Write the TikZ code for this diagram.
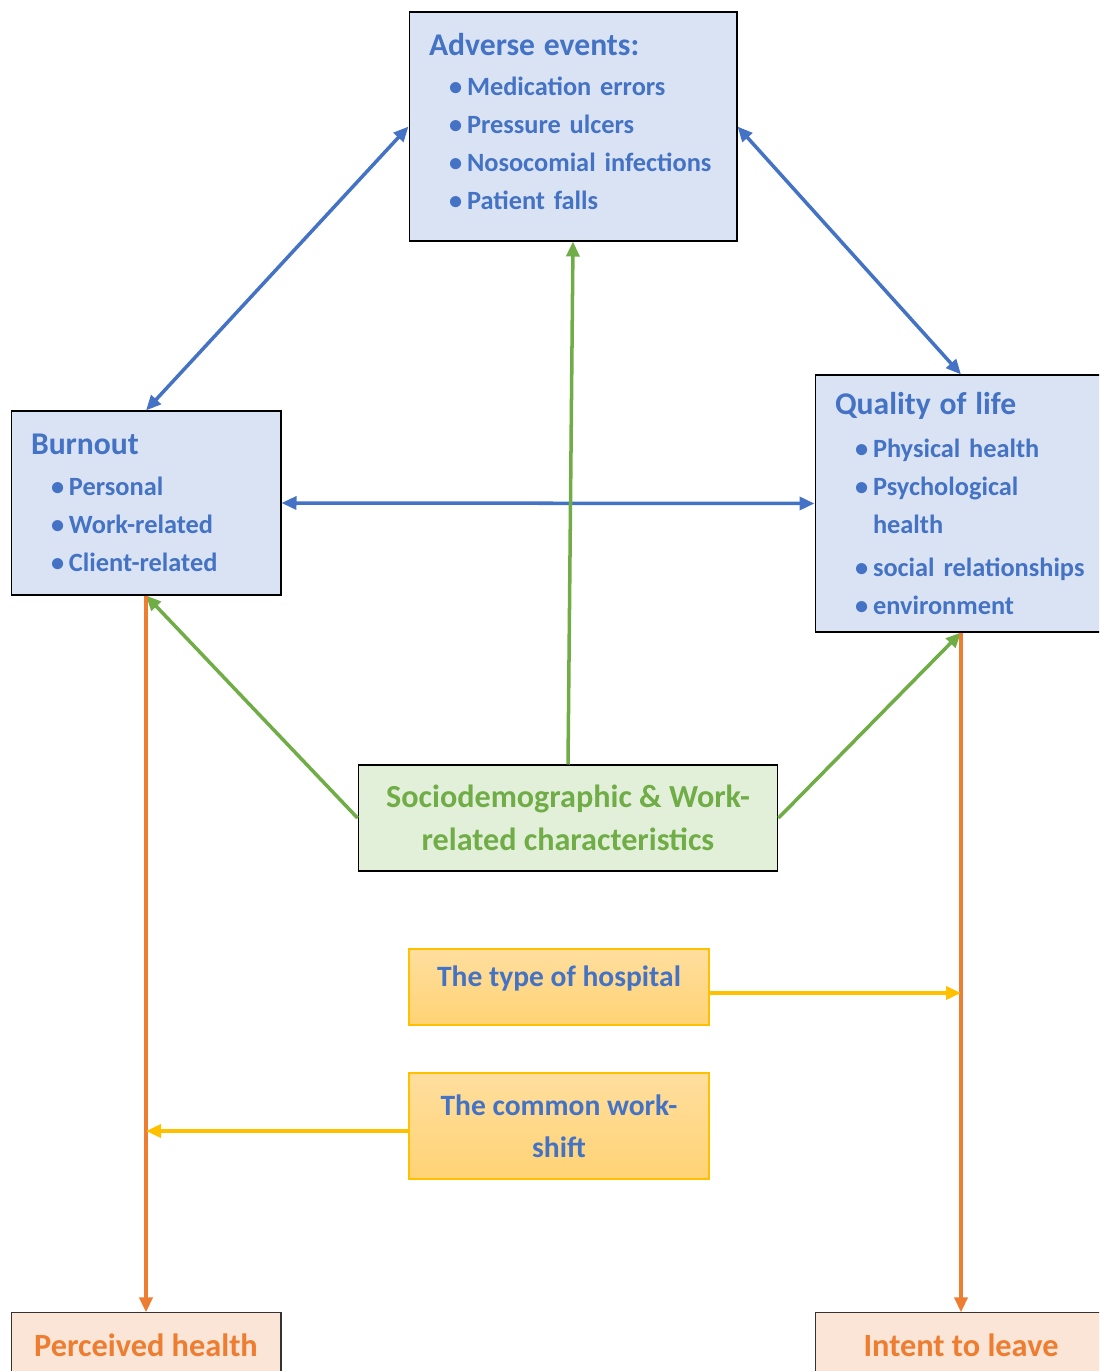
\documentclass[tikz,border=0pt]{standalone}
\usepackage{fontspec}
\setmainfont{Carlito}
\usepackage{xcolor}
\usetikzlibrary{arrows.meta}
\usetikzlibrary{positioning}

\definecolor{txtblue}{HTML}{4472C4}
\definecolor{boxblue}{HTML}{DAE3F3}
\definecolor{txtgreen}{HTML}{70AD47}
\definecolor{boxgreen}{HTML}{E2F0D9}
\definecolor{txtorange}{HTML}{ED7D31}
\definecolor{boxpeach}{HTML}{FBE5D6}
\definecolor{lineyellow}{HTML}{FFC000}
\definecolor{yellowtop}{HTML}{FFDE9E}
\definecolor{yellowbot}{HTML}{FFD375}

\newcommand{\bitem}{\hspace*{0.4cm}\makebox[0.36cm][l]{\textbullet}}
\newcommand{\btitle}[1]{{\fontsize{18}{22}\selectfont #1}}

\begin{document}
\begin{tikzpicture}[x=0.02cm,y=-0.02cm,
                    thick,font=\bfseries,
                    info box/.style={rectangle,draw=black,line width=0.6pt,fill=boxblue,
                      text=txtblue,align=left,inner xsep=0.4cm,inner ysep=0pt,
                      font=\bfseries\fontsize{15}{21.6}\selectfont},
                    cause box/.style={rectangle,draw=black,line width=0.6pt,fill=boxgreen,
                      text=txtgreen,align=center,inner sep=0pt,
                      font=\bfseries\fontsize{18.3}{24.5}\selectfont},
                    shift box/.style={rectangle,draw=lineyellow,line width=1pt,
                      top color=yellowtop,bottom color=yellowbot,text=txtblue,
                      align=center,inner sep=0pt,minimum width=6cm,
                      font=\bfseries\fontsize{16.8}{24}\selectfont},
                    outcome box/.style={rectangle,draw=black!80,line width=0.6pt,fill=boxpeach,
                      text=txtorange,inner sep=0pt,minimum height=1.28cm,
                      font=\bfseries\fontsize{18.4}{22}\selectfont},
                    arrow tip/.style={-{Triangle[length=0.3cm,width=0.26cm]}},
                    both tips/.style={{Triangle[length=0.3cm,width=0.26cm]}-{Triangle[length=0.3cm,width=0.26cm]}},
                    blue arrow/.style={both tips,draw=txtblue,line width=2pt},
                    green arrow/.style={arrow tip,draw=txtgreen,line width=2pt},
                    orange arrow/.style={arrow tip,draw=txtorange,line width=2pt},
                    yellow arrow/.style={arrow tip,draw=lineyellow,line width=2pt}]

  \clip (0,0) rectangle (1099,1371);

  \node[info box,text width=5.76cm,minimum height=4.58cm] (adverse) at (573,126.5)
    {\btitle{Adverse events:}\\[1.5pt]
     \bitem Medication errors\\
     \bitem Pressure ulcers\\
     \bitem Nosocomial infections\\
     \bitem Patient falls\par\vspace{0.2cm}};
  \node[info box,text width=4.6cm,minimum height=3.68cm] (burnout) at (146,503)
    {\btitle{Burnout}\\[1.5pt]
     \bitem Personal\\
     \bitem Work-related\\
     \bitem Client-related};
  \node[info box,text width=5.04cm,minimum height=5.14cm] (qol) at (961,503.5)
    {\btitle{Quality of life}\\[2.5pt]
     \bitem Physical health\\
     \bitem Psychological\\
     \hspace*{0.76cm}health\\[3pt]
     \bitem social relationships\\
     \bitem environment};

  \node[cause box,minimum width=8.4cm,minimum height=2.12cm] (socio) at (568,818)
    {Sociodemographic \& Work-\\related characteristics};

  \node[shift box,minimum height=1.52cm,text depth=0.43cm] (hosp) at (559,987) {The type of hospital};
  \node[shift box,minimum height=2.12cm] (shift) at (559,1126) {The common work-\\shift};

  \node[outcome box,minimum width=5.4cm] (health) [below=14.34cm of burnout] {Perceived health};
  \node[outcome box,minimum width=5.84cm] (leave) [below=13.6cm of qol] {Intent to leave};

  % links between the three outcomes
  \draw[blue arrow] (adverse.west) -- (burnout.north);
  \draw[blue arrow] (adverse.east) -- (qol.north);
  \draw[blue arrow] (burnout.east) -- (qol.west);

  \draw[green arrow] (socio.north) -- (adverse.south);
  \draw[green arrow] (socio.west) -- (burnout.south);
  \draw[green arrow] (socio.east) -- (qol.south);

  \draw[orange arrow] (burnout.south) -- (health.north);
  \draw[orange arrow] (qol.south) -- (leave.north);

  \draw[yellow arrow] ([yshift=-0.12cm]hosp.east) -- ([yshift=-0.12cm]hosp.east -| leave.north);
  \draw[yellow arrow] ([yshift=-0.1cm]shift.west) -- ([yshift=-0.1cm]shift.west -| health.north);
\end{tikzpicture}
\end{document}
